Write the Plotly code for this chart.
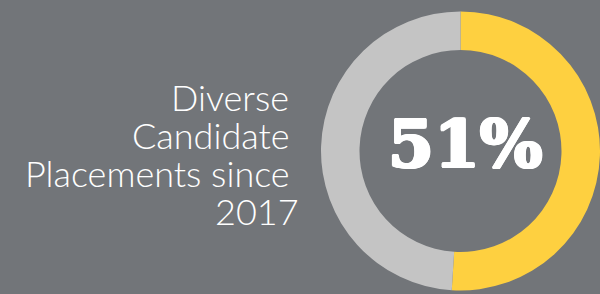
import plotly.graph_objects as go

# Data
slice_labels = ["Diverse placements", "Other placements"]
slice_values = [51, 49]
slice_colors = ["#fed040", "#c4c4c4"]
center_label = "51%"
caption_lines = ["Diverse\u00a0", "Candidate\u00a0", "Placements since\u00a0", "2017"]

BG = "#727579"

fig = go.Figure()
fig.add_trace(go.Pie(
    labels=slice_labels,
    values=slice_values,
    marker=dict(colors=slice_colors, line=dict(width=0)),
    hole=0.724,
    sort=False,
    direction="clockwise",
    rotation=0,
    textinfo="none",
    hoverinfo="label+percent",
    showlegend=False,
    domain=dict(x=[321 / 600, 1.0], y=[1 - 290.5 / 294, 1 - 11.5 / 294]),
))

heavy = ("1.5px 0 0 #fff, -1.5px 0 0 #fff, 0 1px 0 #fff, 0 -1px 0 #fff, "
         "1px 1px 0 #fff, -1px -1px 0 #fff, 1px -1px 0 #fff, -1px 1px 0 #fff")
annotations = [dict(
    text=center_label, x=465 / 600, y=1 - 144 / 294, xref="paper", yref="paper",
    xanchor="center", yanchor="middle", showarrow=False,
    font=dict(family="DejaVu Serif", size=66, color="#ffffff", weight="bold",
              shadow=heavy),
)]

line_centers = [97, 135, 173, 211]
for line, yc in zip(caption_lines, line_centers):
    annotations.append(dict(
        text=line, x=300 / 600, y=1 - yc / 294, xref="paper", yref="paper",
        xanchor="right", yanchor="middle", showarrow=False, align="right",
        height=36, valign="middle", borderpad=0,
        font=dict(family="Lato", size=36, color="#ffffff", weight=300),
    ))

fig.update_layout(
    width=600, height=294,
    margin=dict(l=0, r=0, t=0, b=0),
    paper_bgcolor=BG, plot_bgcolor=BG,
    annotations=annotations,
)

fig.write_html(
    "out.html",
    config={"displayModeBar": False},
    post_script="document.body.style.margin='0';document.body.style.overflow='hidden';",
)
